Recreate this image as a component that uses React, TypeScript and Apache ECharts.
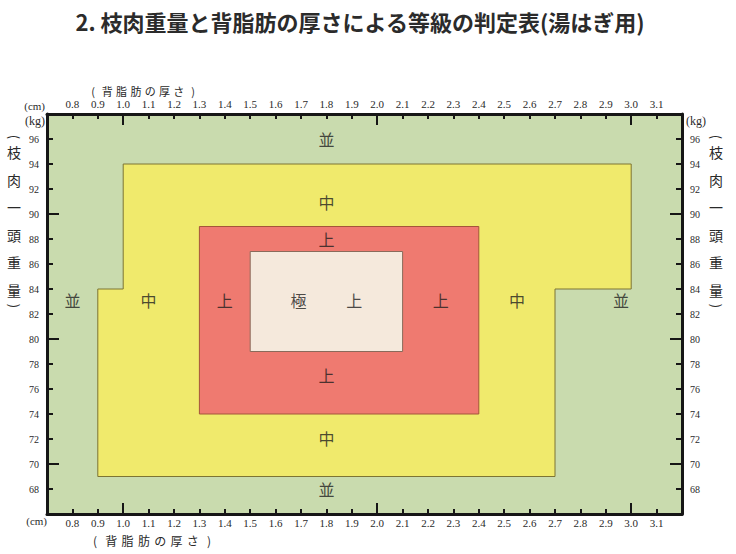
import React, { useEffect, useRef } from "react";
import * as echarts from "echarts";

// ---- data ----
const titleText = "2. 枝肉重量と背脂肪の厚さによる等級の判定表(湯はぎ用)";
const xMin = 0.7;
const xMax = 3.2;
const yMin = 66;
const yMax = 98;
const xLongTicks = [1, 2, 3];
const yLongTicks = [70, 80, 90];

// 中 (yellow) region outline: [fat thickness cm, carcass weight kg]
const chuPolygon: [number, number][] = [
  [1.0, 94], [3.0, 94], [3.0, 84], [2.7, 84], [2.7, 69],
  [0.9, 69], [0.9, 84], [1.0, 84],
];
// 上 (red) region
const jouPolygon: [number, number][] = [
  [1.3, 89], [2.4, 89], [2.4, 74], [1.3, 74],
];
// 極上 (cream) region
const gokujouPolygon: [number, number][] = [
  [1.5, 87], [2.1, 87], [2.1, 79], [1.5, 79],
];

// grade labels: [x, y, text]
const gradeLabels: [number, number, string][] = [
  [1.8, 96.0, "並"],
  [1.8, 91.0, "中"],
  [1.8, 88.0, "上"],
  [0.8, 83.1, "並"],
  [1.1, 83.1, "中"],
  [1.4, 83.1, "上"],
  [1.69, 83.1, "極"],
  [1.91, 83.1, "上"],
  [2.25, 83.1, "上"],
  [2.55, 83.1, "中"],
  [2.96, 83.1, "並"],
  [1.8, 77.1, "上"],
  [1.8, 72.1, "中"],
  [1.8, 68.0, "並"],
];

const xAxisNameChars = ["(", "背", "脂", "肪", "の", "厚", "さ", ")"];
const yAxisNameChars = ["枝", "肉", "一", "頭", "重", "量"];

const COLORS = {
  green: "#c9dbae",
  yellow: "#f0ea6c",
  yellowEdge: "#7d7434",
  red: "#ef7a70",
  redEdge: "#a4553a",
  cream: "#f5e9dc",
  creamEdge: "#8a6a5a",
  axis: "#161616",
  text: "#2a2a2a",
};

const CJK = "Noto Sans CJK JP";
const SERIF = "Liberation Serif";

function polygonSeries(pts: [number, number][], fill: string, stroke: string, z: number) {
  return {
    type: "custom",
    coordinateSystem: "cartesian2d",
    xAxisIndex: 0,
    yAxisIndex: 0,
    z,
    silent: true,
    data: pts,
    encode: { x: 0, y: 1 },
    renderItem: (params: any, api: any) => {
      if (params.dataIndex !== 0) return null;
      const points = pts.map((p) => api.coord(p));
      return {
        type: "polygon",
        shape: { points },
        style: { fill, stroke, lineWidth: 1 },
      };
    },
  };
}

function xLabelFmt(v: number) {
  if (v < xMin + 0.05 || v > xMax - 0.05) return "";
  return v.toFixed(1);
}
function yLabelFmt(v: number) {
  if (v <= yMin || v >= yMax) return "";
  return String(Math.round(v));
}

export default function App() {
  const ref = useRef<HTMLDivElement>(null);

  useEffect(() => {
    if (!ref.current) return;
    const chart = echarts.init(ref.current, undefined, { renderer: "svg" });

    const baseX = (margin: number) => ({
      type: "value",
      min: xMin,
      max: xMax,
      interval: 0.1,
      splitLine: { show: false },
      axisLine: { show: true, onZero: false, lineStyle: { color: COLORS.axis, width: 3 } },
      axisTick: { show: true, inside: true, length: 5, lineStyle: { color: COLORS.axis, width: 2 } },
      axisLabel: {
        show: true,
        formatter: xLabelFmt,
        margin,
        fontSize: 11,
        fontFamily: SERIF,
        color: COLORS.text,
      },
    });
    const longX = {
      type: "value",
      min: xMin,
      max: xMax,
      splitLine: { show: false },
      axisLine: { show: false },
      axisLabel: { show: false },
      axisTick: {
        show: true,
        inside: true,
        length: 11,
        customValues: xLongTicks,
        lineStyle: { color: COLORS.axis, width: 2 },
      },
    };
    const baseY = {
      type: "value",
      min: yMin,
      max: yMax,
      interval: 2,
      splitLine: { show: false },
      axisLine: { show: true, onZero: false, lineStyle: { color: COLORS.axis, width: 3 } },
      axisTick: { show: true, inside: true, length: 6, lineStyle: { color: COLORS.axis, width: 2 } },
      axisLabel: {
        show: true,
        formatter: yLabelFmt,
        margin: 8,
        fontSize: 10,
        fontFamily: SERIF,
        color: COLORS.text,
      },
    };
    const longY = {
      type: "value",
      min: yMin,
      max: yMax,
      splitLine: { show: false },
      axisLine: { show: false },
      axisLabel: { show: false },
      axisTick: {
        show: true,
        inside: true,
        length: 12,
        customValues: yLongTicks,
        lineStyle: { color: COLORS.axis, width: 2 },
      },
    };

    const txt = (text: string, x: number, y: number, extra: any = {}, rotation = 0) => ({
      type: "text",
      x,
      y,
      rotation,
      silent: true,
      style: {
        text,
        fill: COLORS.text,
        fontSize: 12,
        fontFamily: SERIF,
        align: "center",
        verticalAlign: "middle",
        ...extra,
      },
    });

    const verticalName = (cx: number) => {
      const els: any[] = [];
      els.push(txt("(", cx, 137, { fontFamily: CJK, fontSize: 13 }, -Math.PI / 2));
      yAxisNameChars.forEach((c, i) => {
        els.push(txt(c, cx, 152 + i * 27.6, { fontFamily: CJK, fontSize: 14 }));
      });
      els.push(txt(")", cx, 306, { fontFamily: CJK, fontSize: 13 }, -Math.PI / 2));
      return els;
    };

    const horizontalName = (x0: number, step: number, y: number, size: number) =>
      xAxisNameChars.map((c, i) =>
        txt(c, x0 + i * step, y, { fontFamily: CJK, fontSize: size })
      );

    const option: any = {
      animation: false,
      backgroundColor: "#ffffff",
      title: {
        text: titleText,
        left: 355,
        textAlign: "center",
        top: 5,
        textStyle: {
          fontFamily: CJK,
          fontSize: 22,
          fontWeight: "bold",
          color: "#2b2b2b",
        },
      },
      grid: {
        left: 47,
        right: 54,
        top: 114,
        bottom: 40,
        show: true,
        backgroundColor: COLORS.green,
        borderColor: COLORS.axis,
        borderWidth: 0,
      },
      xAxis: [
        { ...baseX(3), position: "bottom" },
        { ...baseX(5), position: "top" },
        { ...longX, position: "bottom" },
        { ...longX, position: "top" },
      ],
      yAxis: [
        { ...baseY, position: "left" },
        { ...baseY, position: "right" },
        { ...longY, position: "left" },
        { ...longY, position: "right" },
      ],
      series: [
        polygonSeries(chuPolygon, COLORS.yellow, COLORS.yellowEdge, 1),
        polygonSeries(jouPolygon, COLORS.red, COLORS.redEdge, 2),
        polygonSeries(gokujouPolygon, COLORS.cream, COLORS.creamEdge, 3),
        {
          type: "scatter",
          z: 5,
          silent: true,
          symbolSize: 1,
          itemStyle: { color: "rgba(0,0,0,0)" },
          data: gradeLabels,
          label: {
            show: true,
            position: "inside",
            formatter: (p: any) => p.data[2],
            fontFamily: CJK,
            fontSize: 16,
            color: "#1e1e1e",
          },
        },
      ],
      graphic: [
        ...horizontalName(93, 14.3, 91, 11),
        ...horizontalName(95, 16.3, 540, 12),
        txt("(cm)", 45, 106, { align: "right", fontSize: 11 }),
        txt("(kg)", 45, 121, { align: "right", fontSize: 12 }),
        txt("(kg)", 686, 121, { align: "left", fontSize: 12 }),
        txt("(cm)", 47, 521, { align: "right", fontSize: 11 }),
        ...verticalName(14),
        ...verticalName(716),
      ],
    };

    chart.setOption(option);
    return () => chart.dispose();
  }, []);

  return (
    <div
      ref={ref}
      style={{ position: "fixed", left: 0, top: 0, width: 736, height: 554 }}
    />
  );
}
